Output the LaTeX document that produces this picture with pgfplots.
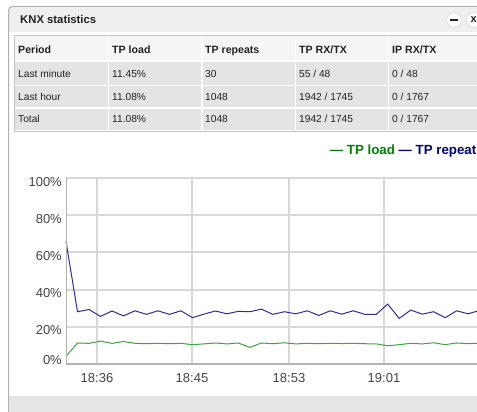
\documentclass[border=0pt]{standalone}
\usepackage{pgfplots}
\pgfplotsset{compat=1.18}
\usepackage{fontspec}
\setmainfont{Liberation Sans}
\definecolor{titlebg}{HTML}{EFEFEF}
\definecolor{frame}{HTML}{B0B0B0}
\definecolor{tableborder}{HTML}{C4C4C4}
\definecolor{headbg}{HTML}{F5F5F5}
\definecolor{rowbg}{HTML}{E4E4E4}
\definecolor{gridgray}{HTML}{D8D8D8}
\definecolor{axgray}{HTML}{B3B3B3}
\definecolor{ticktext}{HTML}{454545}
\definecolor{bottombg}{HTML}{E5E5E5}
\definecolor{cellText}{HTML}{222222}
\definecolor{lgreen}{RGB}{0,128,0}
\definecolor{lnavy}{RGB}{0,0,128}
\definecolor{linegreen}{RGB}{60,165,60}
\definecolor{lineblue}{RGB}{45,45,155}
\pgfplotstableread{
i v
0 65.9
1 28.1
2 29.3
3 25.6
4 28.5
5 25.9
6 28.6
7 26.7
8 28.6
9 26.7
10 28.6
11 24.9
12 26.8
13 28.5
14 27.0
15 28.3
16 28.1
17 29.5
18 26.7
19 28.1
20 27.0
21 28.6
22 26.1
23 28.6
24 26.8
25 28.6
26 26.7
27 26.7
28 32.2
29 24.5
30 29.0
31 26.8
32 28.1
33 24.9
34 28.6
35 27.0
36 28.8
}\repeats
\pgfplotstableread{
i v
0 4.1
1 11.3
2 11.1
3 12.3
4 11.1
5 12.1
6 11.1
7 10.9
8 11.1
9 10.9
10 11.1
11 10.4
12 10.8
13 11.3
14 10.8
15 11.3
16 8.9
17 11.3
18 10.9
19 11.4
20 10.8
21 11.1
22 10.9
23 11.1
24 11.0
25 11.1
26 10.9
27 10.8
28 9.8
29 10.4
30 11.1
31 10.8
32 11.4
33 10.4
34 11.3
35 10.9
36 11.2
}\load
\newcommand\fs[1]{\fontsize{#1}{#1}\selectfont}
\tikzset{hd/.style={anchor=base west, inner sep=0pt, font=\bfseries\fs{10.6}, text=cellText},
         cl/.style={anchor=base west, inner sep=0pt, font=\fs{10.2}, text=cellText}}
\begin{document}
\begin{tikzpicture}
\useasboundingbox (0pt,0pt) rectangle (477pt,412pt);
\clip (0pt,0pt) rectangle (477pt,412pt);
\fill[white] (0pt,0pt) rectangle (477pt,412pt);
\begin{scope}[x=1pt,y=1pt]
% title bar
\fill[titlebg] (9,380) -- (9,401.5) arc[start angle=180,end angle=90,radius=4] -- (480,405.5) -- (480,380) -- cycle;
\draw[frame, line width=1pt] (8.5,0) -- (8.5,401.5) arc[start angle=180,end angle=90,radius=4] -- (480,405.5);
\node[anchor=base west, inner sep=0pt, font=\bfseries\fs{11.3}, text=cellText] at (20,388.5) {KNX statistics};
% buttons
\filldraw[fill=white, draw=gridgray, line width=0.6pt] (454,392) circle[radius=7.3];
\draw[cellText, line width=1.3pt] (450.3,392) -- (457.7,392);
\filldraw[fill=white, draw=gridgray, line width=0.6pt] (473.5,392) circle[radius=7.3];
\node[inner sep=0pt, font=\bfseries\fs{11}, text=cellText] at (473.8,392.3) {x};
% table
\fill[headbg] (15,352) rectangle (480,376);
\fill[rowbg] (15,327.3) rectangle (480,350);
\fill[rowbg] (15,304.7) rectangle (480,326);
\fill[rowbg] (15,282) rectangle (480,303);
\foreach \xx in {108.3,202,295.3,388.3}{\draw[white, line width=1.6pt] (\xx,281.5) -- (\xx,376);}
\draw[tableborder, line width=0.9pt] (14.5,281) rectangle (490,376.5);
\node[hd] at (18,358.3) {Period};
\node[hd] at (112,358.3) {TP load};
\node[hd] at (205,358.3) {TP repeats};
\node[hd] at (299,358.3) {TP RX/TX};
\node[hd] at (392,358.3) {IP RX/TX};
\node[cl] at (18,334.3) {Last minute};
\node[cl] at (112,334.3) {11.45\%};
\node[cl] at (205,334.3) {30};
\node[cl] at (299,334.3) {55 / 48};
\node[cl] at (392,334.3) {0 / 48};
\node[cl] at (18,311) {Last hour};
\node[cl] at (112,311) {11.08\%};
\node[cl] at (205,311) {1048};
\node[cl] at (299,311) {1942 / 1745};
\node[cl] at (392,311) {0 / 1767};
\node[cl] at (18,289.3) {Total};
\node[cl] at (112,289.3) {11.08\%};
\node[cl] at (205,289.3) {1048};
\node[cl] at (299,289.3) {1942 / 1745};
\node[cl] at (392,289.3) {0 / 1767};
% legend
\node[anchor=base east, inner sep=0pt, font=\bfseries\fs{13.3}] at (476.5,257.3) {\textcolor{lgreen}{— TP load} \textcolor{lnavy}{— TP repeat}};
% bottom bar
\fill[bottombg] (9,0) rectangle (480,16);
\end{scope}
% chart
\begin{axis}[
  at={(66pt,48pt)}, anchor=origin, scale only axis,
  width=425.13pt, height=186pt,
  xmin=0, xmax=37, ymin=0, ymax=100,
  axis line style={draw=none},
  major tick length=0pt, minor tick length=0pt, tick style={draw=none},
  xtick pos=bottom, ytick pos=left,
  grid=major, grid style={gridgray, line width=2pt},
  clip=false,
  xtick={2.698,10.966,19.408,27.676},
  xticklabels={18:36,18:45,18:53,19:01},
  ytick={20,40,60,80,100},
  yticklabels={20\%,40\%,60\%,80\%,100\%},
  extra y ticks={0}, extra y tick labels={0\%},
  extra y tick style={yticklabel style={yshift=7.5pt}, tick style={draw=none}},
  xticklabel style={anchor=base, inner sep=0pt, yshift=-18.3pt, font=\fs{13}, text=ticktext},
  yticklabel style={anchor=base east, inner sep=0pt, xshift=-4pt, yshift=-8.2pt, font=\fs{13}, text=ticktext},
]
\addplot[lineblue, line width=1pt] table[x=i,y=v] {\repeats};
\addplot[linegreen, line width=1pt] table[x=i,y=v] {\load};
\draw[axgray, line width=1pt] (axis cs:0,0) -- (axis cs:0,100);
\draw[axgray, line width=2pt] (axis cs:0,0) -- (axis cs:37,0);
\end{axis}
\end{tikzpicture}
\end{document}
